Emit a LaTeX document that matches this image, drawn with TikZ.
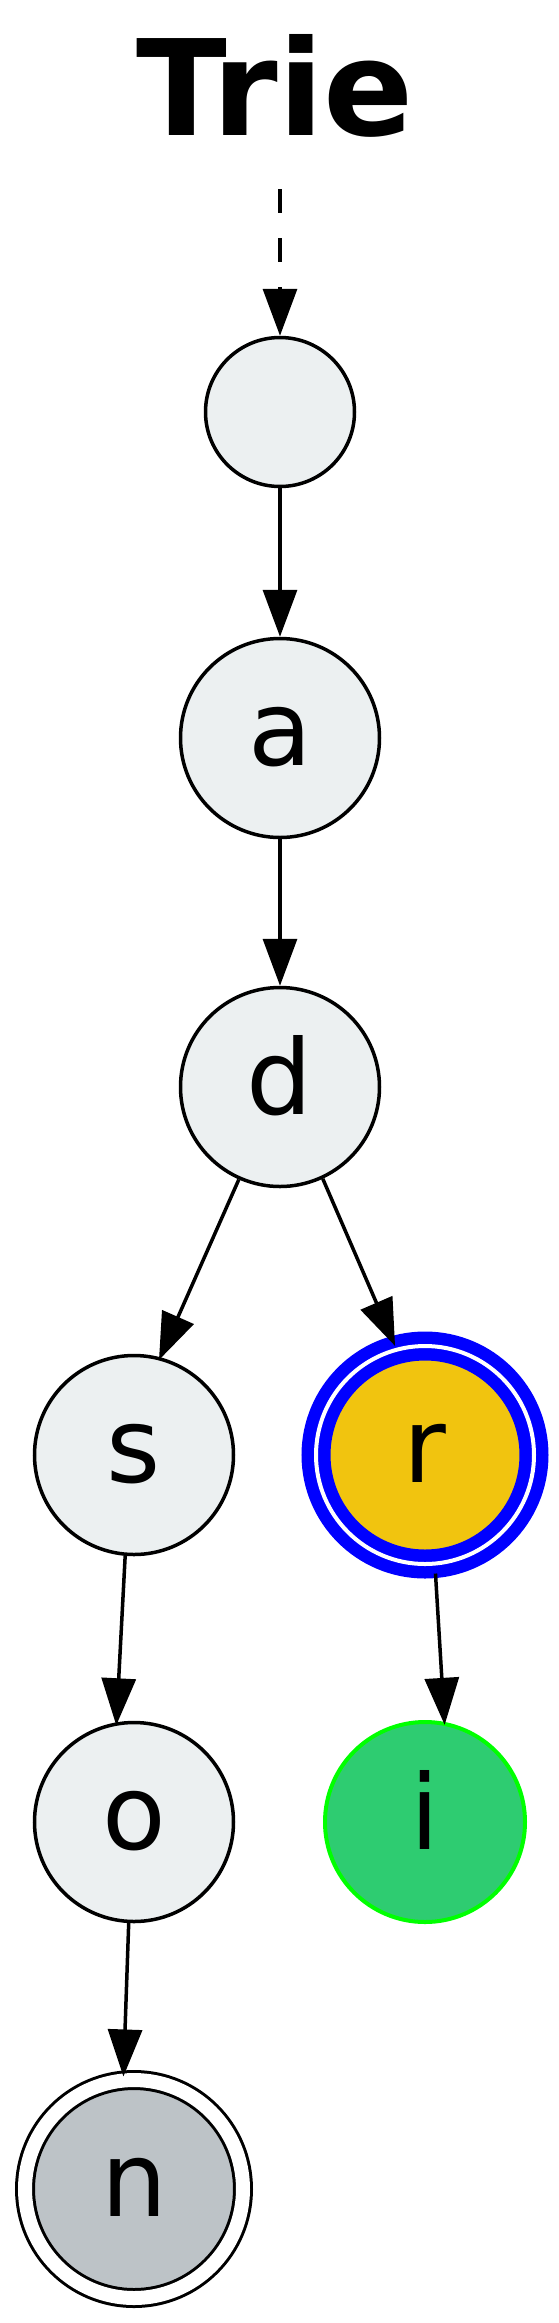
\documentclass[tikz,border=0pt]{standalone}
\usepackage{fontspec}
\setmainfont{DejaVu Sans}
\usetikzlibrary{arrows.meta}
\definecolor{nodegray}{HTML}{ECF0F1}
\definecolor{yellowc}{HTML}{F1C40F}
\definecolor{greenc}{HTML}{2ECC71}
\definecolor{limec}{HTML}{00FF00}
\definecolor{grayc}{HTML}{BDC3C7}
\definecolor{bluec}{HTML}{0000FF}
\begin{document}
\begin{tikzpicture}[x=1pt,y=-1pt,
  trienode/.style={circle, draw=black, line width=3.5pt, fill=nodegray,
    minimum size=199pt, inner sep=0pt,
    font=\fontsize{104pt}{110pt}\selectfont, text height=54pt, text depth=0pt},
  edge/.style={-{Triangle[length=47pt,width=34pt]}, line width=3.5pt},
  titlestyle/.style={font=\fontsize{133pt}{140pt}\selectfont\bfseries, anchor=base, inner sep=0pt}
]
\fill[white] (0,0) rectangle (559,2323);
\useasboundingbox (0,0) rectangle (559,2323);
\node[titlestyle] (title) at (275,135) {Trie};
\coordinate (start) at (280,189);
\node[trienode, minimum size=149pt] (root) at (280,412) {};
\node[trienode] (a) at (280,738) {a};
\node[trienode] (d) at (280,1087) {d};
\node[trienode] (s) at (134,1455) {s};
\node[trienode, fill=yellowc, draw=bluec, line width=12.5pt, double=white, double distance=4pt, minimum size=218pt, outer sep=14pt] (r) at (425,1455) {r};
\node[trienode] (o) at (134,1822) {o};
\node[trienode, fill=greenc, draw=limec, line width=4pt, minimum size=200pt] (i) at (425,1822) {i};
\node[trienode, fill=grayc, line width=3pt, double=white, double distance=14pt, minimum size=218pt, outer sep=10pt] (n) at (134,2189) {n};
\draw[edge, dash pattern=on 24pt off 25pt] (start) -- (root.north);
\draw[edge] (root) -- (a);
\draw[edge] (a) -- (d);
\draw[edge, shorten >=-3pt] (d.246) -- (s.75);
\draw[edge, shorten >=-10pt] (d.295) -- (r.106);
\draw[edge, shorten >=-3pt] (s.265) -- (o.100);
\draw[edge, shorten <=-4pt, shorten >=-3pt] (r.275) -- (i.79);
\draw[edge, shorten >=-6pt] (o.267) -- (n.95);
\end{tikzpicture}
\end{document}
